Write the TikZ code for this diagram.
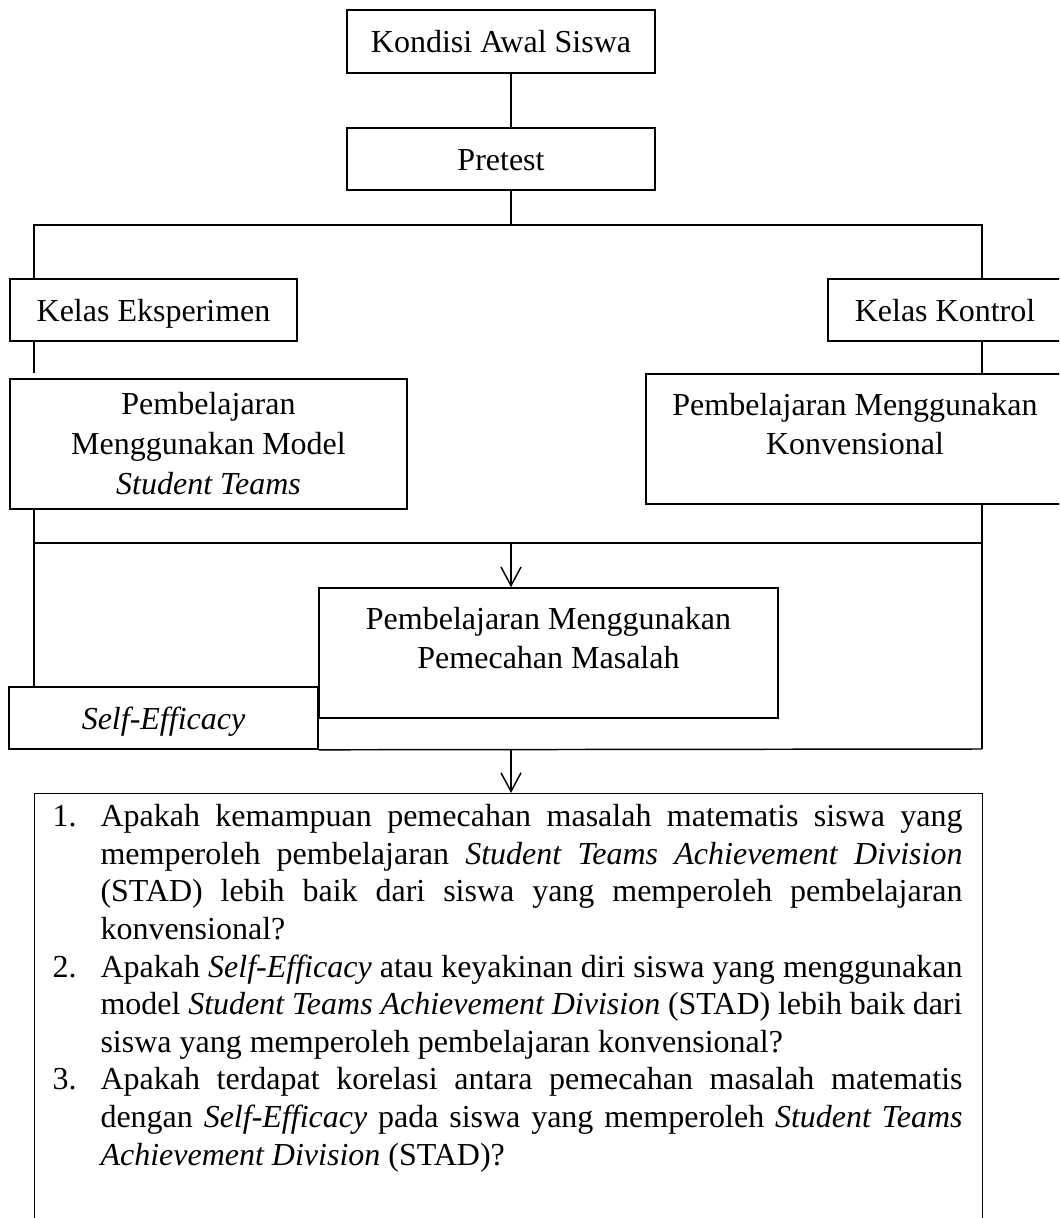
\documentclass[tikz,border=0pt]{standalone}
\usepackage{fontspec}
\setmainfont{Liberation Serif}
\usetikzlibrary{arrows.meta}

\tikzset{
    kotak/.style={draw, line width=0.55pt, inner sep=0pt, align=center,
        font=\fontsize{12}{14.5}\selectfont},
    satubaris/.style={kotak, text height=11pt, text depth=2.6pt},
    panah/.style={-{Straight Barb[length=7pt,width=7.5pt,line width=0.55pt]}},
    garis/.style={line width=0.55pt}
}

\begin{document}
\begin{tikzpicture}[x=0.375pt, y=-0.375pt]

    \path[use as bounding box] (0,0) rectangle (1059,1218);
    \clip (0,0) rectangle (1059,1218);

    % titik bantu garis
    \coordinate (poros) at (511,0);
    \coordinate (kiri) at (34,0);
    \coordinate (kanan) at (982,0);
    \coordinate (cabang) at (0,225);
    \coordinate (gabung) at (0,543);
    \coordinate (hasil) at (0,749);
    \coordinate (putus) at (34,373);

    \node[satubaris, minimum width=115.5pt, minimum height=23.6pt] (kondisi) at (501,41.5) {Kondisi Awal Siswa};
    \node[satubaris, minimum width=115.5pt, minimum height=23.3pt] (pretest) at (501,159) {Pretest};
    \node[satubaris, minimum width=107.6pt, minimum height=23.3pt] (eksperimen) at (153.5,310) {Kelas Eksperimen};
    \node[satubaris, minimum width=87.8pt, minimum height=23.3pt] (kontrol) at (945,310) {Kelas Kontrol};

    \node[kotak, minimum width=148.9pt, minimum height=48.8pt,
        font=\fontsize{12}{15}\selectfont] (modelstad) at (208.5,444)
        {Pembelajaran\\Menggunakan Model\\\textit{Student Teams}};
    \node[kotak, minimum width=156.8pt, minimum height=48.8pt] (konvensional) at (855,439)
        {Pembelajaran Menggunakan\\Konvensional\\[-3pt]\mbox{}};
    \node[kotak, minimum width=172.1pt, minimum height=48.8pt] (tengah) at (548.5,653)
        {Pembelajaran Menggunakan\\Pemecahan Masalah\\[-3pt]\mbox{}};
    \node[satubaris, minimum width=115.9pt, minimum height=23.3pt] (selfeff) at (163.5,718) {\textit{Self-Efficacy}};

    \node[kotak, anchor=north west, minimum width=355.5pt, minimum height=170pt] (bingkai) at (34,793) {};
    \node[anchor=north west, inner sep=0pt, text width=341.25pt, align=justify,
        font=\fontsize{12}{14.1}\selectfont] (soal) at (52,804) {%
        \hangindent=18pt\hangafter=1\noindent\makebox[18pt][l]{1.}Apakah kemampuan pemecahan masalah matematis siswa yang\linebreak
        memperoleh pembelajaran \textit{Student Teams Achievement Division}\linebreak
        (STAD) lebih baik dari siswa yang memperoleh pembelajaran\linebreak
        konvensional?\par
        \hangindent=18pt\hangafter=1\noindent\makebox[18pt][l]{2.}Apakah \textit{Self-Efficacy} atau keyakinan diri siswa yang menggunakan\linebreak
        model \textit{Student Teams Achievement Division} (STAD) lebih baik dari\linebreak
        siswa yang memperoleh pembelajaran konvensional?\par
        \hangindent=18pt\hangafter=1\noindent\makebox[18pt][l]{3.}Apakah terdapat korelasi antara pemecahan masalah matematis\linebreak
        dengan \textit{Self-Efficacy} pada siswa yang memperoleh \textit{Student Teams}\linebreak
        \textit{Achievement Division} (STAD)?\par};

    \draw[garis] (kondisi.south -| poros) -- (pretest.north -| poros);
    \draw[garis] (pretest.south -| poros) -- (cabang -| poros);
    \draw[garis] (eksperimen.north -| kiri) |- (cabang -| kanan) -- (kontrol.north -| kanan);
    \draw[garis] (eksperimen.south -| kiri) -- (putus);
    \draw[garis] (kontrol.south -| kanan) -- (konvensional.north -| kanan);

    \draw[garis] (modelstad.south -| kiri) -- (selfeff.north -| kiri);
    \draw[garis] (konvensional.south -| kanan) -- (hasil -| kanan);
    \draw[garis] (gabung -| kiri) -- (gabung -| kanan);
    \draw[garis] (selfeff.south east) -- (hasil -| kanan);
    \draw[garis, panah] (gabung -| poros) -- (tengah.north -| poros);
    \draw[garis, panah] (hasil -| poros) -- (bingkai.north -| poros);

\end{tikzpicture}
\end{document}
